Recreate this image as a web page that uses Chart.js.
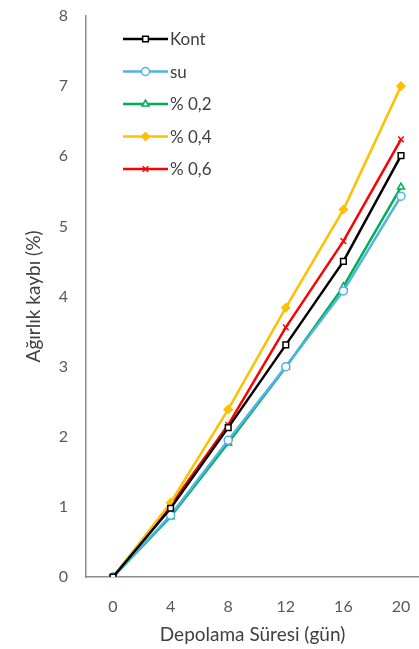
<!DOCTYPE html>
<html>
<head>
<meta charset="utf-8">
<script src="https://cdn.jsdelivr.net/npm/chart.js@4"></script>
<style>
  html, body { margin: 0; padding: 0; background: #fff; }
  #wrap { width: 419px; height: 649px; }
</style>
</head>
<body>
<div id="wrap"><canvas id="myChart" width="419" height="649"></canvas></div>
<script>
const days = [0, 4, 8, 12, 16, 20];
const yTicks = [0, 1, 2, 3, 4, 5, 6, 7, 8];

const kont = [0, 0.98, 2.13, 3.31, 4.5, 6.01];
const su   = [0, 0.88, 1.95, 3.0, 4.08, 5.43];
const p02  = [0, 0.86, 1.91, 2.99, 4.14, 5.56];
const p04  = [0, 1.06, 2.39, 3.84, 5.24, 7.0];
const p06  = [0, 1.02, 2.17, 3.56, 4.79, 6.24];

const seriesNames = ['Kont', 'su', '% 0,2', '% 0,4', '% 0,6'];

const ctx = document.getElementById('myChart');

function pts(arr) {
  return days.map((d, i) => ({ x: d, y: arr[i] }));
}

function ds(label, arr, color, style, fill) {
  return {
    label: label,
    data: pts(arr),
    borderColor: color,
    backgroundColor: fill,
    borderWidth: 2.5,
    pointStyle: style,
    pointRadius: 4,
    pointBorderWidth: 1.5,
    pointBorderColor: color,
    pointBackgroundColor: fill,
    tension: 0
  };
}

// legend drawn inside the plot, top left
const innerLegend = {
  id: 'innerLegend',
  afterDraw(chart) {
    const c = chart.ctx;
    const x0 = 123, x1 = 168, tx = 170;
    c.save();
    chart.data.datasets.forEach((d, i) => {
      const y = 39 + i * 32.5;
      c.strokeStyle = d.borderColor;
      c.lineWidth = 2.5;
      c.beginPath();
      c.moveTo(x0, y);
      c.lineTo(x1, y);
      c.stroke();
      c.lineWidth = 1.5;
      c.fillStyle = d.pointBackgroundColor;
      Chart.helpers.drawPoint(c, { pointStyle: d.pointStyle, radius: 4, borderWidth: 1.5, rotation: 0 }, (x0 + x1) / 2, y);
      c.fillStyle = '#404040';
      c.font = '17px Lato';
      c.textBaseline = 'middle';
      c.textAlign = 'left';
      c.fillText(d.label, tx, y + 1);
    });
    c.restore();
  }
};

new Chart(ctx, {
  type: 'line',
  data: {
    datasets: [
      ds(seriesNames[0], kont, '#000000', 'rect', '#ffffff'),
      ds(seriesNames[1], su, '#4fb3e3', 'circle', '#ffffff'),
      ds(seriesNames[2], p02, '#00b050', 'triangle', '#ffffff'),
      ds(seriesNames[3], p04, '#ffc000', 'rectRot', '#ffc000'),
      ds(seriesNames[4], p06, '#ff0000', 'crossRot', '#ff0000')
    ]
  },
  options: {
    responsive: false,
    animation: false,
    layout: { autoPadding: false, padding: { top: 16, right: 0, left: 0, bottom: 0 } },
    plugins: {
      legend: { display: false },
      tooltip: { enabled: false }
    },
    scales: {
      x: {
        type: 'linear',
        min: -1.875,
        max: 21.25,
        afterBuildTicks: (s) => { s.ticks = days.map(v => ({ value: v })); },
        afterFit: (s) => { s.height = 72; s.paddingLeft = 0; s.paddingRight = 0; },
        grid: { display: false },
        border: { display: true, color: '#8c8c8c', width: 1.5 },
        ticks: { padding: 12, color: '#595959', font: { family: 'Lato', size: 16 } },
        title: {
          display: true,
          text: 'Depolama Süresi (gün)',
          color: '#404040',
          font: { family: 'Lato', size: 19 },
          padding: { top: 0, bottom: 3 }
        }
      },
      y: {
        min: 0,
        max: 8,
        afterBuildTicks: (s) => { s.ticks = yTicks.map(v => ({ value: v })); },
        afterFit: (s) => { s.width = 86; s.paddingTop = 0; s.paddingBottom = 0; },
        grid: { display: false },
        border: { display: true, color: '#8c8c8c', width: 1.5 },
        ticks: { padding: 10, color: '#595959', font: { family: 'Lato', size: 16 } },
        title: {
          display: true,
          text: 'Ağırlık kaybı (%)',
          color: '#404040',
          font: { family: 'Lato', size: 19 },
          padding: { top: 22, bottom: 0 }
        }
      }
    }
  },
  plugins: [innerLegend]
});
</script>
</body>
</html>
